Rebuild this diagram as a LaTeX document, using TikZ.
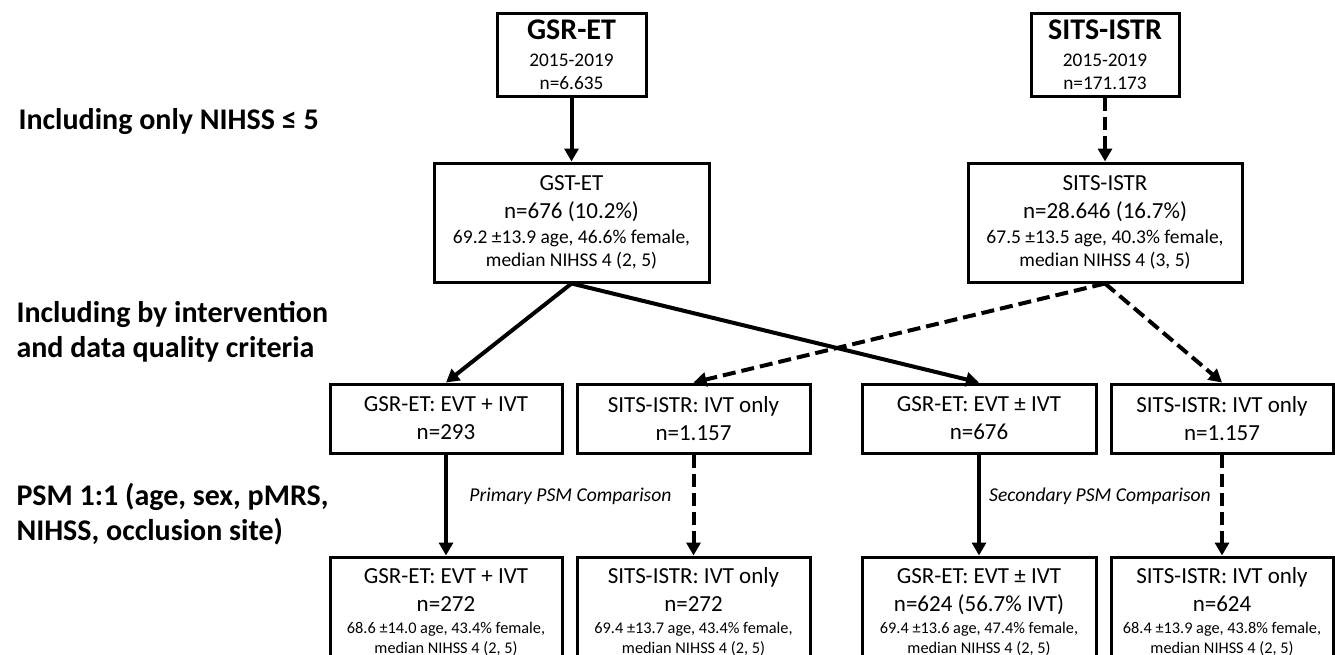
\documentclass[tikz,border=0pt]{standalone}
\usepackage{fontspec}
\setmainfont{Carlito}
\usetikzlibrary{arrows.meta, positioning, calc}

\newcommand{\detail}{\fontsize{19.5}{24}\selectfont}
\newcommand{\detailsm}{\fontsize{16.3}{20}\selectfont}

\begin{document}
\begin{tikzpicture}[x=1pt, y=-1pt, >={Triangle[length=13pt, width=14pt]},
    box/.style={draw, line width=3pt, inner sep=0pt, align=center, font=\fontsize{23}{28}\selectfont},
    conn/.style={line width=4pt, ->},
    connd/.style={conn, dash pattern=on 13pt off 6pt},
    stage/.style={anchor=base west, align=left, font=\fontsize{30}{34.5}\selectfont\bfseries},
    note/.style={font=\fontsize{19.6}{23}\selectfont\itshape}]

    \useasboundingbox (0,0) rectangle (1335,654);

    \node[stage] (lab1) at (15, 129) {Including only NIHSS ≤ 5};
    \node[stage] (lab2) at (13, 357) {Including by intervention\\and data quality criteria};
    \node[stage] (lab3) at (13, 540) {PSM 1:1 (age, sex, pMRS,\\NIHSS, occlusion site)};

    \node[box, minimum width=149pt, minimum height=83pt, font=\fontsize{19.3}{23}\selectfont] (reg1) at (571.5, 54.5)
        {{\fontsize{30}{30}\selectfont\bfseries GSR-ET}\\[4pt]2015-2019\\n=6.635};
    \node[box, minimum width=148pt, minimum height=83pt, font=\fontsize{19.3}{23}\selectfont] (reg2) at (1105, 54.5)
        {{\fontsize{30}{30}\selectfont\bfseries SITS-ISTR}\\[4pt]2015-2019\\n=171.173};

    \node[box, minimum width=275pt, minimum height=119pt] (nih1) at (571.5, 222.5)
        {GST-ET\\n=676 (10.2\%)\\[-3pt]{\detail 69.2 ±13.9 age, 46.6\% female,}\\[-5pt]{\detail median NIHSS 4 (2, 5)}};
    \node[box, minimum width=274pt, minimum height=119pt] (nih2) at (1105, 222.5)
        {SITS-ISTR\\n=28.646 (16.7\%)\\[-3pt]{\detail 67.5 ±13.5 age, 40.3\% female,}\\[-5pt]{\detail median NIHSS 4 (3, 5)}};

    \node[box, minimum width=232pt, minimum height=69pt] (sel1) at (446, 418.5) {GSR-ET: EVT + IVT\\n=293};
    \node[box, minimum width=233pt, minimum height=69pt] (sel2) at (693.5, 418.5) {SITS-ISTR: IVT only\\n=1.157};
    \node[box, minimum width=234pt, minimum height=69pt] (sel3) at (979, 418.5) {GSR-ET: EVT ± IVT\\n=676};
    \node[box, minimum width=222pt, minimum height=69pt] (sel4) at (1222, 418.5) {SITS-ISTR: IVT only\\n=1.157};

    \node[box, minimum width=232pt, minimum height=110pt] (psm1) at (446, 612)
        {GSR-ET: EVT + IVT\\n=272\\[-6pt]{\detailsm 68.6 ±14.0 age, 43.4\% female,}\\[-8pt]{\detailsm median NIHSS 4 (2, 5)}};
    \node[box, minimum width=233pt, minimum height=110pt] (psm2) at (693.5, 612)
        {SITS-ISTR: IVT only\\n=272\\[-6pt]{\detailsm 69.4 ±13.7 age, 43.4\% female,}\\[-8pt]{\detailsm median NIHSS 4 (2, 5)}};
    \node[box, minimum width=234pt, minimum height=110pt] (psm3) at (979, 612)
        {GSR-ET: EVT ± IVT\\n=624 (56.7\% IVT)\\[-6pt]{\detailsm 69.4 ±13.6 age, 47.4\% female,}\\[-8pt]{\detailsm median NIHSS 4 (2, 5)}};
    \node[box, minimum width=222pt, minimum height=110pt] (psm4) at (1222, 612)
        {SITS-ISTR: IVT only\\n=624\\[-6pt]{\detailsm 68.4 ±13.9 age, 43.8\% female,}\\[-8pt]{\detailsm median NIHSS 4 (2, 5)}};

    \node[note] (cmp1) at (570.5, 496) {Primary PSM Comparison};
    \node[note] (cmp2) at (1100, 496) {Secondary PSM Comparison};

    \draw[conn] (reg1.south) -- (nih1.north);
    \draw[connd] (reg2.south) -- (nih2.north);

    \draw[conn] (nih1.south) -- (sel1.north);
    \draw[conn] (nih1.south) -- (sel3.north);
    \draw[connd] (nih2.south) -- (sel2.north);
    \draw[connd] (nih2.south) -- (sel4.north);

    \draw[conn] (sel1.south) -- (psm1.north);
    \draw[connd] (sel2.south) -- (psm2.north);
    \draw[conn] (sel3.south) -- (psm3.north);
    \draw[connd] (sel4.south) -- (psm4.north);

\end{tikzpicture}
\end{document}
